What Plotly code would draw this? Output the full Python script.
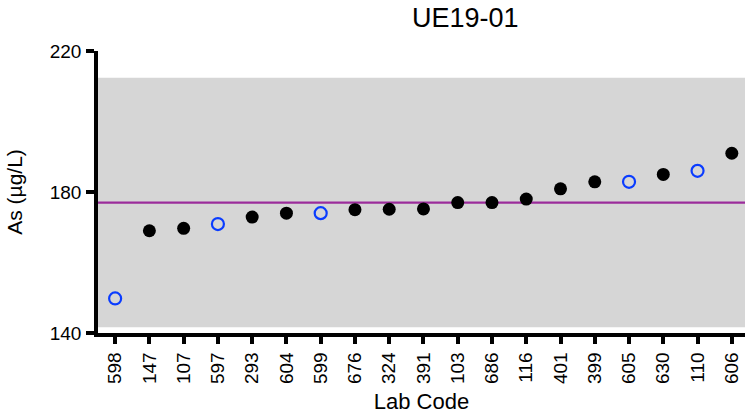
import plotly.graph_objects as go

lab_codes = ["598", "147", "107", "597", "293", "604", "599", "676", "324", "391",
             "103", "686", "116", "401", "399", "605", "630", "110", "606"]
as_values = [149.8, 169.0, 169.7, 170.9, 172.9, 174.0, 174.0, 175.0, 175.1, 175.2,
             177.0, 177.0, 178.0, 180.9, 182.9, 182.9, 185.0, 186.0, 191.0]
open_marker = [True, False, False, True, False, False, True, False, False, False,
               False, False, False, False, False, True, False, True, False]
assigned_value = 177.0
band_low = 141.6
band_high = 212.4
y_ticks = [140, 180, 220]

filled_x = [c for c, o in zip(lab_codes, open_marker) if not o]
filled_y = [v for v, o in zip(as_values, open_marker) if not o]
open_x = [c for c, o in zip(lab_codes, open_marker) if o]
open_y = [v for v, o in zip(as_values, open_marker) if o]

fig = go.Figure()
fig.add_trace(go.Scatter(x=filled_x, y=filled_y, mode="markers",
                         marker=dict(symbol="circle", size=13, color="black"),
                         showlegend=False, cliponaxis=False))
fig.add_trace(go.Scatter(x=open_x, y=open_y, mode="markers",
                         marker=dict(symbol="circle-open", size=12, color="#0A3CFF",
                                     line=dict(width=2.2, color="#0A3CFF")),
                         showlegend=False, cliponaxis=False))

fig.add_shape(type="rect", xref="paper", yref="y", x0=0, x1=1, y0=band_low, y1=band_high,
              fillcolor="#D6D6D6", line=dict(width=0), layer="below")
fig.add_shape(type="line", xref="paper", yref="y", x0=0, x1=1, y0=assigned_value, y1=assigned_value,
              line=dict(color="#9B2C9B", width=2.2), layer="below")

font_family = "Liberation Sans, Arial, sans-serif"
fig.update_layout(
    width=745, height=414,
    margin=dict(l=98, r=0, t=51, b=81, autoexpand=False),
    plot_bgcolor="white", paper_bgcolor="white",
    font=dict(family=font_family, color="black"),
    title=dict(text="UE19-01", x=423 / 745, xanchor="center", xref="paper",
               y=1 - 18 / 414, yanchor="middle",
               font=dict(size=27, family=font_family, color="black")),
    xaxis=dict(type="category", categoryorder="array", categoryarray=lab_codes,
               range=[-0.5, 18.385],
               showline=True, linecolor="black", linewidth=3.5,
               ticks="outside", ticklen=7, tickwidth=3.5, tickcolor="black",
               tickangle=-90, tickfont=dict(size=19), ticklabelstandoff=1,
               showgrid=False, zeroline=False, automargin=False,
               title=dict(text="Lab Code", font=dict(size=22), standoff=12)),
    yaxis=dict(range=[140, 220], tickvals=y_ticks, ticktext=[str(t) for t in y_ticks],
               showline=True, linecolor="black", linewidth=3.5,
               ticks="outside", ticklen=8, tickwidth=3.5, tickcolor="black",
               tickfont=dict(size=19), ticklabelstandoff=1,
               showgrid=False, zeroline=False, automargin=False,
               title=dict(text="As (µg/L)", font=dict(size=21), standoff=22)),
)

fig.write_html("out.html", config={"displayModeBar": False},
               post_script="document.body.style.margin='0';document.body.style.overflow='hidden';")
